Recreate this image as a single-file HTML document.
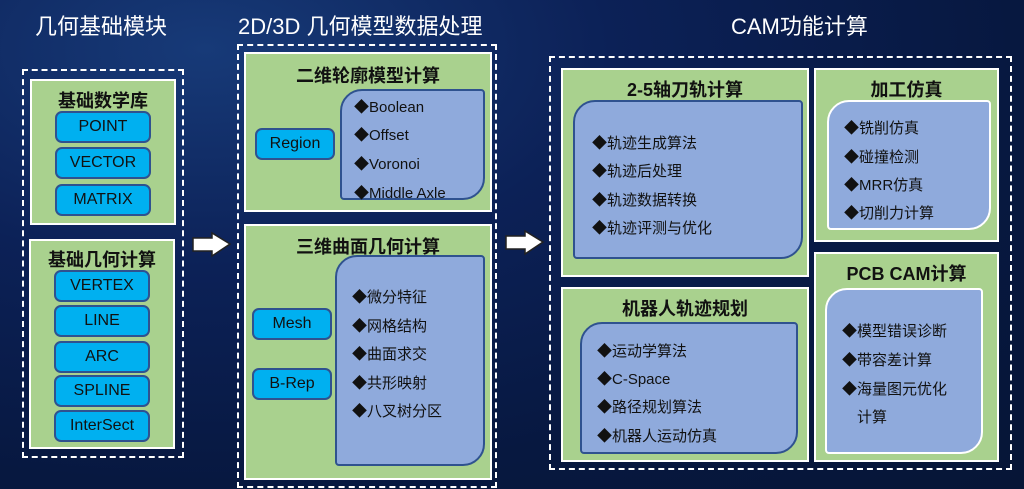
<!DOCTYPE html>
<html><head><meta charset="utf-8"><style>
*{margin:0;padding:0;box-sizing:border-box}
body{width:1024px;height:489px;overflow:hidden;position:relative;background:radial-gradient(ellipse at 20% 10%,#173a78 0%,#0c2157 35%,#071840 70%,#061536 100%);font-family:"Liberation Sans","Noto Sans CJK SC",sans-serif}
.a{position:absolute}
.h{color:#fff;font-size:22px;white-space:nowrap}
.d{border:2.5px dashed #fff}
.g{background:#a9d18e;border:2px solid #fff}
.t{position:absolute;left:0;right:0;text-align:center;font-weight:bold;font-size:18px;color:#111}
.b{position:absolute;background:#00b0f0;border:2px solid #2f528f;border-radius:7px;text-align:center;font-size:16px;color:#111}
.bl{position:absolute;background:#8faadc;border:2px solid #2f528f;border-radius:22px 4px 22px 4px;font-size:15px;color:#111}
.bl.w{border-color:#fff}
.bl div{position:absolute;white-space:nowrap}
</style></head><body>
<div class="a h" style="left:35px;top:9px">几何基础模块</div>
<div class="a h" style="left:238px;top:9px">2D/3D 几何模型数据处理</div>
<div class="a h" style="left:731px;top:9px">CAM功能计算</div>

<div class="a d" style="left:22px;top:69px;width:162px;height:389px"></div>
<div class="a g" style="left:30px;top:79px;width:146px;height:146px"><div class="t" style="top:6px">基础数学库</div></div>
<div class="b" style="left:55px;top:111px;width:96px;height:32px;line-height:28px">POINT</div>
<div class="b" style="left:55px;top:147px;width:96px;height:32px;line-height:28px">VECTOR</div>
<div class="b" style="left:55px;top:184px;width:96px;height:32px;line-height:28px">MATRIX</div>
<div class="a g" style="left:29px;top:239px;width:146px;height:210px"><div class="t" style="top:5px">基础几何计算</div></div>
<div class="b" style="left:54px;top:270px;width:96px;height:32px;line-height:28px">VERTEX</div>
<div class="b" style="left:54px;top:305px;width:96px;height:32px;line-height:28px">LINE</div>
<div class="b" style="left:54px;top:341px;width:96px;height:32px;line-height:28px">ARC</div>
<div class="b" style="left:54px;top:375px;width:96px;height:32px;line-height:28px">SPLINE</div>
<div class="b" style="left:54px;top:410px;width:96px;height:32px;line-height:28px">InterSect</div>

<svg class="a" style="left:190px;top:230px" width="44" height="30"><path d="M3 8H22V3L40 14L22 26V21H3Z" fill="#fff" stroke="#222" stroke-width="1.5"/></svg>
<svg class="a" style="left:503px;top:228px" width="44" height="30"><path d="M3 8H22V3L40 14L22 26V21H3Z" fill="#fff" stroke="#222" stroke-width="1.5"/></svg>

<div class="a d" style="left:237px;top:44px;width:260px;height:444px"></div>
<div class="a g" style="left:244px;top:52px;width:248px;height:160px"><div class="t" style="top:8px">二维轮廓模型计算</div></div>
<div class="b" style="left:255px;top:128px;width:80px;height:32px;line-height:28px">Region</div>
<div class="bl" style="left:340px;top:89px;width:145px;height:111px">
<div style="left:12px;top:5px">◆Boolean</div><div style="left:12px;top:33px">◆Offset</div><div style="left:12px;top:62px">◆Voronoi</div><div style="left:12px;top:91px">◆Middle Axle</div></div>
<div class="a g" style="left:244px;top:224px;width:248px;height:256px"><div class="t" style="top:7px">三维曲面几何计算</div></div>
<div class="b" style="left:252px;top:308px;width:80px;height:32px;line-height:28px">Mesh</div>
<div class="b" style="left:252px;top:368px;width:80px;height:32px;line-height:28px">B-Rep</div>
<div class="bl" style="left:335px;top:255px;width:150px;height:211px">
<div style="left:15px;top:29px">◆微分特征</div><div style="left:15px;top:58px">◆网格结构</div><div style="left:15px;top:86px">◆曲面求交</div><div style="left:15px;top:115px">◆共形映射</div><div style="left:15px;top:143px">◆八叉树分区</div></div>

<div class="a d" style="left:549px;top:56px;width:463px;height:414px"></div>
<div class="a g" style="left:561px;top:68px;width:248px;height:209px"><div class="t" style="top:6px">2-5轴刀轨计算</div></div>
<div class="bl" style="left:573px;top:100px;width:230px;height:159px">
<div style="left:17px;top:30px">◆轨迹生成算法</div><div style="left:17px;top:58px">◆轨迹后处理</div><div style="left:17px;top:87px">◆轨迹数据转换</div><div style="left:17px;top:115px">◆轨迹评测与优化</div></div>
<div class="a g" style="left:814px;top:68px;width:185px;height:174px"><div class="t" style="top:6px">加工仿真</div></div>
<div class="bl w" style="left:827px;top:100px;width:164px;height:130px">
<div style="left:15px;top:15px">◆铣削仿真</div><div style="left:15px;top:44px">◆碰撞检测</div><div style="left:15px;top:72px">◆MRR仿真</div><div style="left:15px;top:100px">◆切削力计算</div></div>
<div class="a g" style="left:561px;top:287px;width:248px;height:175px"><div class="t" style="top:6px">机器人轨迹规划</div></div>
<div class="bl" style="left:580px;top:322px;width:218px;height:132px">
<div style="left:15px;top:16px">◆运动学算法</div><div style="left:15px;top:44px">◆C-Space</div><div style="left:15px;top:72px">◆路径规划算法</div><div style="left:15px;top:101px">◆机器人运动仿真</div></div>
<div class="a g" style="left:814px;top:252px;width:185px;height:210px"><div class="t" style="top:6px">PCB CAM计算</div></div>
<div class="bl w" style="left:825px;top:288px;width:158px;height:166px">
<div style="left:15px;top:30px">◆模型错误诊断</div><div style="left:15px;top:59px">◆带容差计算</div><div style="left:15px;top:88px">◆海量图元优化</div><div style="left:30px;top:116px">计算</div></div>
</body></html>
